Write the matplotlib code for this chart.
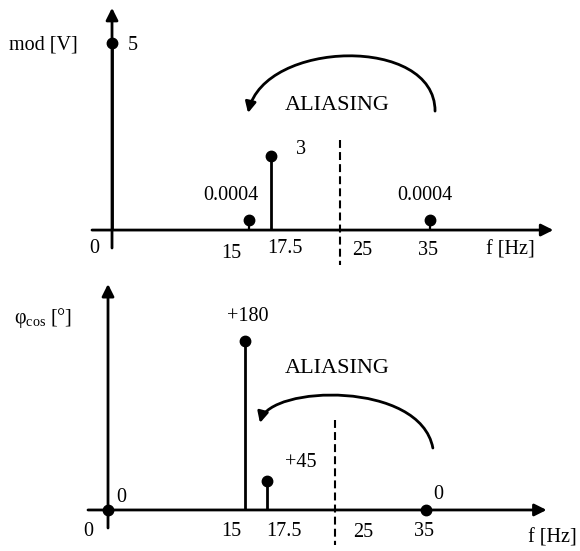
import matplotlib
matplotlib.use("Agg")
import matplotlib.pyplot as plt
from matplotlib.patches import FancyArrowPatch
from matplotlib.path import Path

plt.rcParams['font.family'] = ['Liberation Serif', 'DejaVu Serif']
plt.rcParams['mathtext.fontset'] = 'custom'
plt.rcParams['mathtext.rm'] = 'Liberation Serif'

# ---------------------------------------------------
# Data (spectrum before / after aliasing)
# ---------------------------------------------------
freqs = [0, 15, 17.5, 35]
tick_labels = ["0", "15", "17.5", "25", "35"]
tick_freqs = [0, 15, 17.5, 25, 35]

# amplitude spectrum (drawn heights are schematic, labels are the values)
mod_labels = ["5", "0.0004", "3", "0.0004"]
mod_drawn = [5, 0.27, 1.98, 0.27]

# phase spectrum
phase_labels = ["0", "+180", "+45", "0"]
phase_drawn = [0, 180, 31, 0]

nyquist = 25

LW = 2.0
FS = 14.5

fig = plt.figure(figsize=(5.8, 5.51), dpi=100)
ax1 = fig.add_axes([0, 0, 1, 1])
ax2 = fig.add_axes([0, 0, 1, 1])
for ax in (ax1, ax2):
    ax.set_axis_off()
    ax.patch.set_alpha(0)

ax1.set_xlim(-12.31, 51.43)
ax1.set_ylim(-8.58, 6.15)
ax2.set_xlim(-11.87, 51.87)
ax2.set_ylim(-43.7, 543.2)


def axis_arrow(ax, start, tip):
    ax.annotate('', xy=tip, xytext=start,
                arrowprops=dict(arrowstyle='-|>', lw=LW, color='k',
                                shrinkA=0, shrinkB=0, mutation_scale=18))


def label(ax, x, y, s, dx, dy, **kw):
    ax.annotate(s, xy=(x, y), xytext=(dx, dy), textcoords='offset pixels',
                ha='center', va='center', fontsize=FS, **kw)


def curved_arrow(ax, pts):
    codes = [Path.MOVETO, Path.CURVE4, Path.CURVE4, Path.CURVE4]
    arr = FancyArrowPatch(path=Path(pts, codes), arrowstyle='-|>',
                          mutation_scale=16, lw=LW, color='k')
    ax.add_patch(arr)


# ---------------------------------------------------
# Top: amplitude
# ---------------------------------------------------
axis_arrow(ax1, (-2.2, 0), (48.5, 0))
axis_arrow(ax1, (0, -0.48), (0, 5.94))

for f, h in zip(freqs, mod_drawn):
    lw = LW if h > 1 else 1.6
    ax1.plot([f, f], [0, h], color='k', lw=lw, solid_capstyle='butt')
    ax1.plot(f, h, 'o', color='k', ms=7.5)

mod_offsets = [(21, -2), (-18, 24), (30, 6), (-6, 24)]
for f, h, s, (dx, dy) in zip(freqs, mod_drawn, mod_labels, mod_offsets):
    label(ax1, f, h, s, dx, dy)

top_tick_off = [(-18, -18), (-17, -23), (14, -18), (23, -20), (-2, -20)]
for f, s, (dx, dy) in zip(tick_freqs, tick_labels, top_tick_off):
    label(ax1, f, 0, s, dx, dy)
label(ax1, 48.5, 0, "f [Hz]", -43, -20)
label(ax1, 0, 5.94, "mod [V]", -69, -37)

ax1.plot([nyquist, nyquist], [2.4, -0.94], color='k', lw=1.5,
         linestyle=(0, (3.8, 2)))
ax1.text(24.7, 3.34, "ALIASING", ha='center', va='center', fontsize=16)
curved_arrow(ax1, [(35.5, 3.18), (35.5, 5.21), (16.8, 5.08), (14.95, 3.13)])

# ---------------------------------------------------
# Bottom: phase
# ---------------------------------------------------
axis_arrow(ax2, (-2.2, 0), (48.2, 0))
axis_arrow(ax2, (0, -19.2), (0, 240.7))

for f, h in zip(freqs, phase_drawn):
    if h > 0:
        ax2.plot([f, f], [0, h], color='k', lw=LW, solid_capstyle='butt')
    ax2.plot(f, h, 'o', color='k', ms=7.5)

phase_offsets = [(13, 12), (3, 24), (33, 18), (12, 15)]
for f, h, s, (dx, dy) in zip(freqs, phase_drawn, phase_labels, phase_offsets):
    label(ax2, f, h, s, dx, dy)

bot_tick_off = [(-20, -22), (-13, -22), (17, -22), (28, -23), (-2, -22)]
for f, s, (dx, dy) in zip(tick_freqs, tick_labels, bot_tick_off):
    label(ax2, f, 0, s, dx, dy)
label(ax2, 48.2, 0, "f [Hz]", 6, -28)
label(ax2, 0, 240.7, "φ$_{\\mathrm{cos}}$ [°]", -65, -34)

ax2.plot([nyquist, nyquist], [95.8, -37.3], color='k', lw=1.5,
         linestyle=(0, (3.8, 2)))
ax2.text(25.2, 151, "ALIASING", ha='center', va='center', fontsize=16)
curved_arrow(ax2, [(35.7, 66), (34.3, 138), (17.8, 133), (16.7, 92.7)])

fig.savefig("out.png", dpi=100)
